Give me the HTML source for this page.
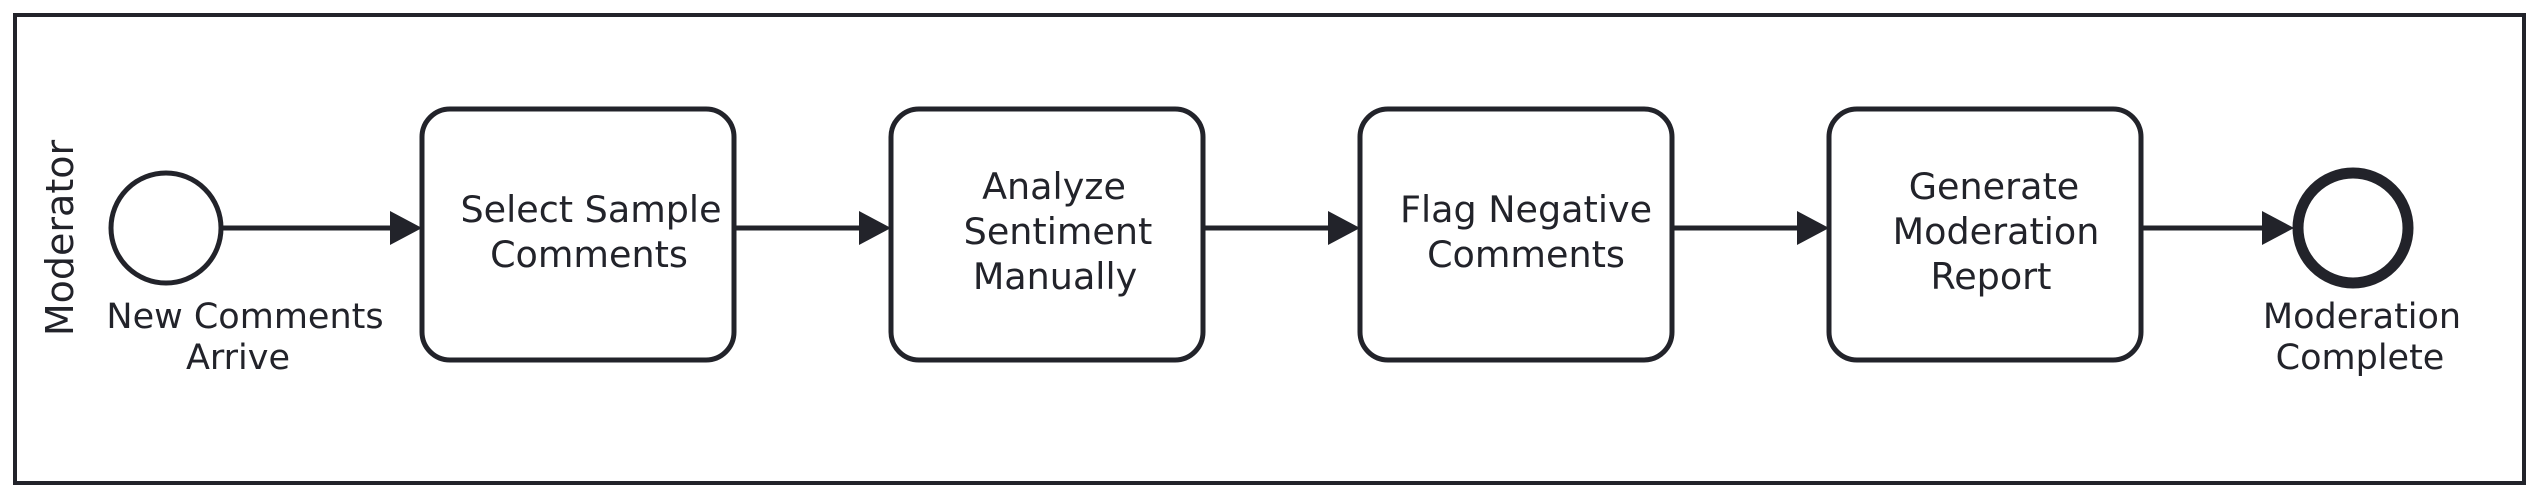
<!DOCTYPE html>
<html><head><meta charset="utf-8"><style>html,body{margin:0;padding:0;background:#fff;}svg{display:block}</style></head>
<body>
<svg width="2531" height="500" viewBox="0 0 2531 500" xmlns="http://www.w3.org/2000/svg" font-family="DejaVu Sans, Liberation Sans, sans-serif" font-size="36.5" fill="#22232a">
<rect x="15" y="15" width="2509" height="468" fill="#fff" stroke="#22232a" stroke-width="4"/>
<text transform="translate(73,238) rotate(-90)" text-anchor="middle" font-size="38">Moderator</text>
<g stroke="#22232a" fill="#fff">
<circle cx="166" cy="228" r="55" stroke-width="5"/>
<circle cx="2353" cy="228" r="55" stroke-width="11"/>
<rect x="422" y="109" width="312" height="251" rx="28" stroke-width="5"/>
<rect x="891" y="109" width="312" height="251" rx="28" stroke-width="5"/>
<rect x="1360" y="109" width="312" height="251" rx="28" stroke-width="5"/>
<rect x="1829" y="109" width="312" height="251" rx="28" stroke-width="5"/>
</g>
<g stroke="#22232a" stroke-width="5">
<line x1="221" y1="228" x2="392" y2="228"/>
<line x1="734" y1="228" x2="861" y2="228"/>
<line x1="1203" y1="228" x2="1330" y2="228"/>
<line x1="1672" y1="228" x2="1799" y2="228"/>
<line x1="2141" y1="228" x2="2264" y2="228"/>
</g>
<g fill="#22232a">
<polygon points="390,211 422,228 390,245"/>
<polygon points="859,211 891,228 859,245"/>
<polygon points="1328,211 1360,228 1328,245"/>
<polygon points="1797,211 1829,228 1797,245"/>
<polygon points="2262,211 2294,228 2262,245"/>
</g>
<g text-anchor="middle">
<text x="591" y="222">Select Sample</text>
<text x="589" y="267">Comments</text>
<text x="1054" y="199">Analyze</text>
<text x="1058" y="244">Sentiment</text>
<text x="1055" y="289">Manually</text>
<text x="1526" y="222">Flag Negative</text>
<text x="1526" y="267">Comments</text>
<text x="1994" y="199">Generate</text>
<text x="1996" y="244">Moderation</text>
<text x="1991" y="289">Report</text>
</g>
<g text-anchor="middle" font-size="35">
<text x="245" y="328">New Comments</text>
<text x="238" y="369">Arrive</text>
<text x="2362" y="328">Moderation</text>
<text x="2360" y="369">Complete</text>
</g>
</svg>
</body></html>
